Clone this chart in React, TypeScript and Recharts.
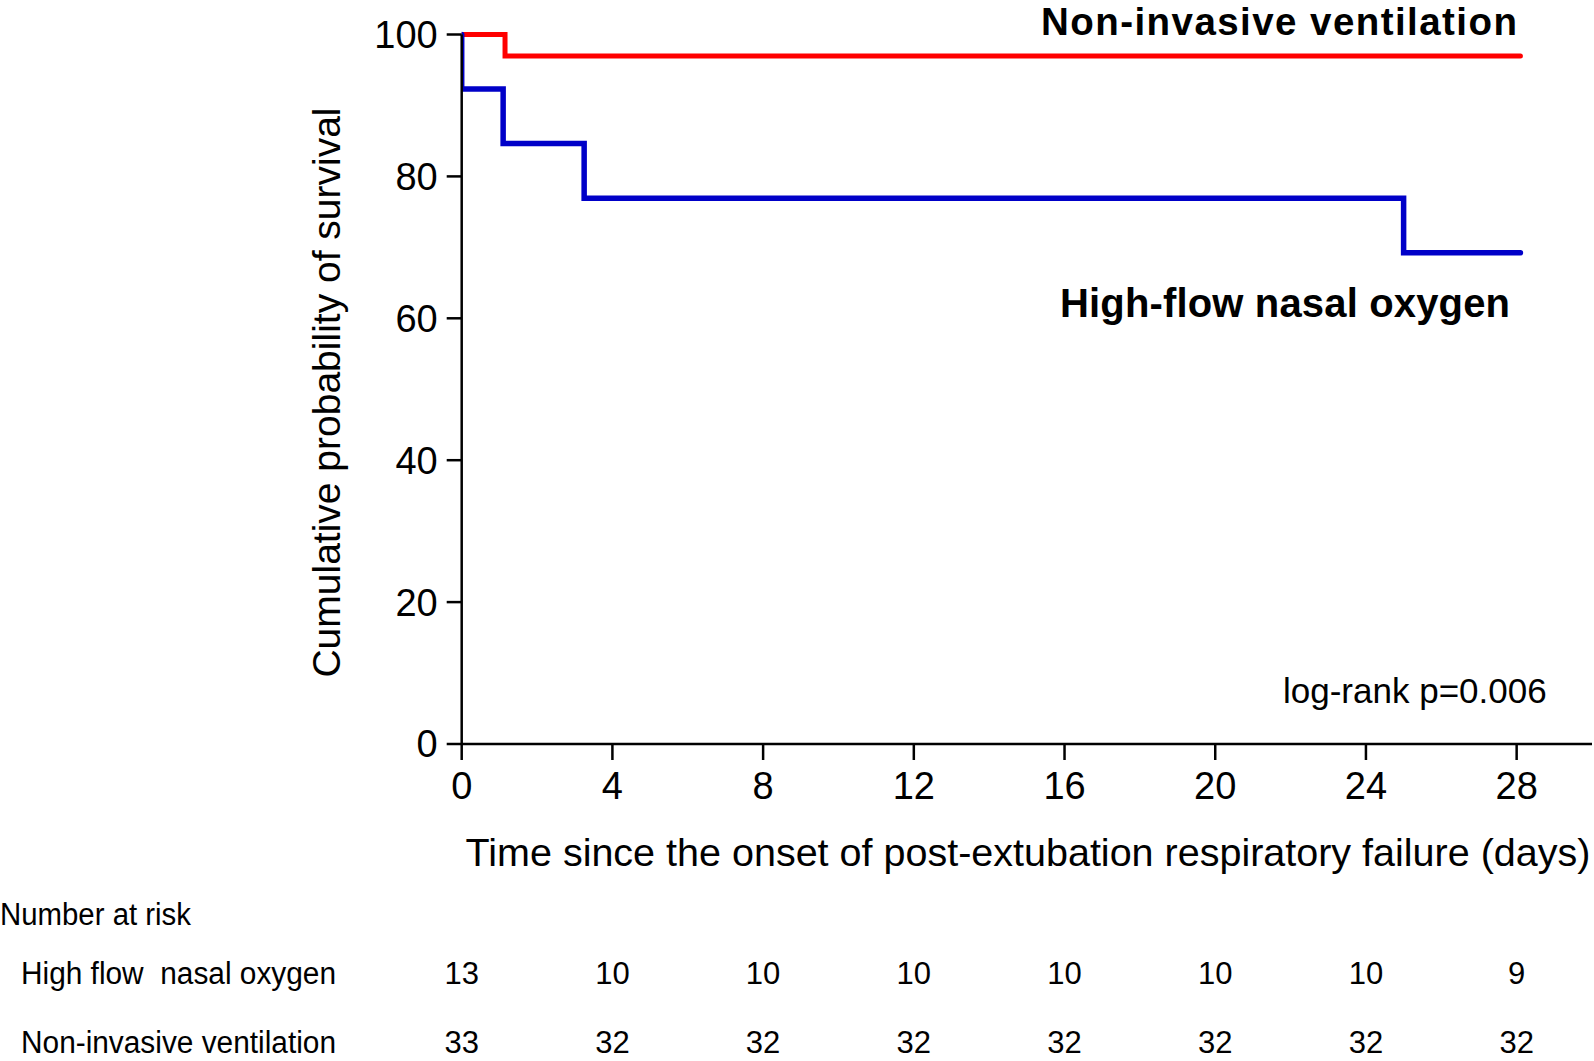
import React from "react";
import { LineChart, Line, XAxis, YAxis, ScatterChart, Scatter } from "recharts";

const FONT = "'Liberation Sans', Arial, Helvetica, sans-serif";

// Kaplan-Meier step data (time in days, survival %)
const hfnoTime = [0, 0, 1.1, 3.25, 25, 28.1];
const hfnoSurv = [100, 92.31, 84.62, 76.92, 69.23, 69.23];
const nivTime = [0, 1.15, 28.1];
const nivSurv = [100, 96.97, 96.97];

const xTicks = [0, 4, 8, 12, 16, 20, 24, 28];
const yTicks = [0, 20, 40, 60, 80, 100];

// Number at risk
const riskDays = [0, 4, 8, 12, 16, 20, 24, 28];
const hfnoRisk = [13, 10, 10, 10, 10, 10, 10, 9];
const nivRisk = [33, 32, 32, 32, 32, 32, 32, 32];

const hfnoData = hfnoTime.map((t, i) => ({ t, s: hfnoSurv[i] }));
const nivData = nivTime.map((t, i) => ({ t, s: nivSurv[i] }));
const hfnoRiskData = riskDays.map((d, i) => ({ d, row: 2, n: hfnoRisk[i] }));
const nivRiskData = riskDays.map((d, i) => ({ d, row: 1, n: nivRisk[i] }));

const RiskNumber = (props: any) => {
  const { cx, cy, payload } = props;
  return (
    <text x={cx} y={cy} dy="0.36em" textAnchor="middle" fontSize={31} fontFamily={FONT} fill="#000">
      {payload.n}
    </text>
  );
};

export default function App() {
  return (
    <div style={{ position: "absolute", top: 0, left: 0, width: 1594, height: 1061, overflow: "hidden", background: "#fff" }}>
      <div style={{ position: "absolute", top: 0, left: 0 }}>
        <LineChart width={1594} height={870} margin={{ top: 34.5, right: 2, bottom: 0, left: 361.7 }}>
          <XAxis
            type="number"
            dataKey="t"
            domain={[0, 30]}
            ticks={xTicks}
            height={126}
            tickSize={16}
            tickMargin={12}
            axisLine={{ stroke: "#000", strokeWidth: 2.5 }}
            tickLine={{ stroke: "#000", strokeWidth: 2.5 }}
            tick={{ fill: "#000", fontSize: 38, fontFamily: FONT }}
            allowDataOverflow
          />
          <YAxis
            type="number"
            domain={[0, 100]}
            ticks={yTicks}
            width={100}
            tickSize={15}
            tickMargin={9}
            axisLine={{ stroke: "#000", strokeWidth: 2.5 }}
            tickLine={{ stroke: "#000", strokeWidth: 2.5 }}
            tick={{ fill: "#000", fontSize: 38, fontFamily: FONT }}
          />
          <Line
            data={nivData}
            dataKey="s"
            type="stepAfter"
            stroke="#ff0000"
            strokeWidth={5}
            strokeLinecap="round"
            dot={false}
            activeDot={false}
            isAnimationActive={false}
          />
          <Line
            data={hfnoData}
            dataKey="s"
            type="stepAfter"
            stroke="#0000c8"
            strokeWidth={5.5}
            strokeLinecap="round"
            dot={false}
            activeDot={false}
            isAnimationActive={false}
          />
        </LineChart>
      </div>
      <div style={{ position: "absolute", top: 870, left: 0 }}>
        <ScatterChart width={1594} height={191} margin={{ top: 103, right: 2, bottom: 19, left: 461.7 }}>
          <XAxis type="number" dataKey="d" domain={[0, 30]} hide />
          <YAxis type="number" dataKey="row" domain={[1, 2]} hide />
          <Scatter data={hfnoRiskData} shape={RiskNumber} isAnimationActive={false} />
          <Scatter data={nivRiskData} shape={RiskNumber} isAnimationActive={false} />
        </ScatterChart>
      </div>
      <svg width={1594} height={1061} style={{ position: "absolute", top: 0, left: 0, pointerEvents: "none" }}>
        <g fontFamily={FONT} fill="#000">
          <text x={1041} y={35} fontSize={38.5} fontWeight="bold" textLength={476}>
            Non-invasive ventilation
          </text>
          <text x={1060} y={317} fontSize={40} fontWeight="bold" textLength={450}>
            High-flow nasal oxygen
          </text>
          <text x={1283} y={703} fontSize={35}>
            log-rank p=0.006
          </text>
          <text x={340} y={392.5} fontSize={39} textAnchor="middle" transform="rotate(-90 340 392.5)">
            Cumulative probability of survival
          </text>
          <text x={1028} y={866} fontSize={39.5} textAnchor="middle">
            Time since the onset of post-extubation respiratory failure (days)
          </text>
          <text x={0} y={925} fontSize={31} textLength={191} lengthAdjust="spacingAndGlyphs">
            Number at risk
          </text>
          <text x={21} y={984} fontSize={31} textLength={315} lengthAdjust="spacingAndGlyphs" style={{ whiteSpace: "pre" }}>
            {"High flow  nasal oxygen"}
          </text>
          <text x={21} y={1053} fontSize={31} textLength={315} lengthAdjust="spacingAndGlyphs">
            Non-invasive ventilation
          </text>
        </g>
      </svg>
    </div>
  );
}
